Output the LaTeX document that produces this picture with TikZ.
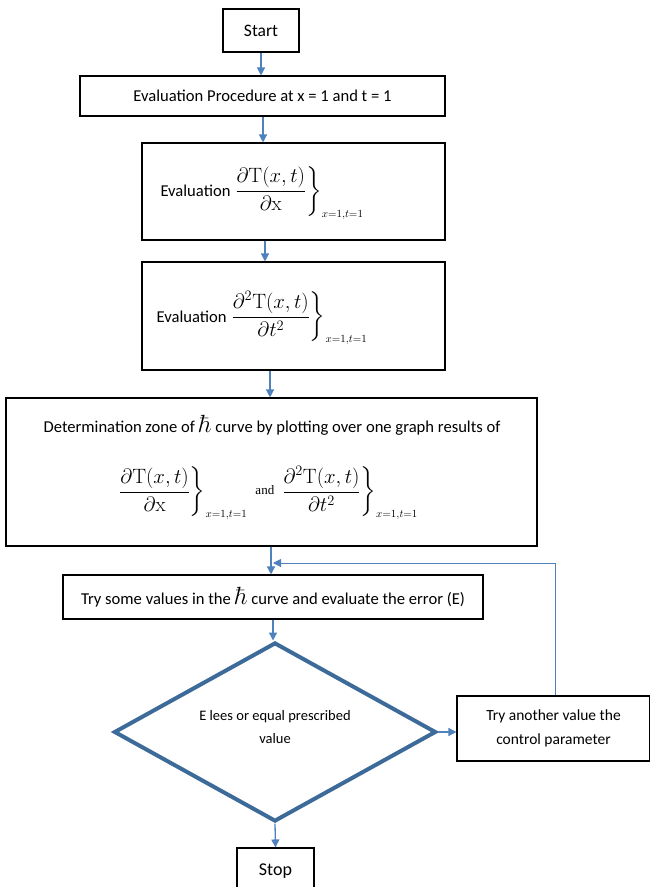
\documentclass[tikz,border=0pt]{standalone}
\usepackage{amsmath}
\usepackage[no-math]{fontspec}
\setmainfont{Carlito}
\newfontfamily\tnr{Liberation Serif}
\usetikzlibrary{arrows.meta,shapes.geometric}
\definecolor{arrowblue}{HTML}{4F81BD}
\definecolor{diablue}{HTML}{3D6B99}
\begin{document}
\begin{tikzpicture}[x=1pt,y=-1pt,
  box/.style={draw=black, line width=1.1pt, inner sep=0pt},
  arr/.style={draw=arrowblue, line width=1.3pt, -{Triangle[length=8pt,width=8pt]}},
  fbline/.style={draw=arrowblue, line width=1pt, -{Triangle[length=8pt,width=8pt]}},
  txt/.style={font=\fontsize{16.6}{19}\selectfont, align=center, inner sep=0pt},
  small/.style={font=\fontsize{14.5}{23}\selectfont, align=center, inner sep=0pt},
  decision/.style={diamond, draw=diablue, line width=4pt, inner sep=0pt, line join=miter},
]
\useasboundingbox (0,0) rectangle (650,887);
\clip (0,0) rectangle (650,887);
\newcommand{\mfont}{\fontsize{21}{25}\selectfont}
\newcommand{\dTx}{\left.\frac{\partial\mathrm{T}(x,t)}{\partial\mathrm{x}}\right\}_{\scriptscriptstyle x=1,t=1}}
\newcommand{\dTtt}{\left.\frac{\partial^{2}\mathrm{T}(x,t)}{\partial t^{2}}\right\}_{\scriptscriptstyle x=1,t=1}}
\newcommand{\hb}{{\fontsize{23}{23}\selectfont$\hbar$}}

% boxes
\node[box, txt, font=\fontsize{17.5}{20}\selectfont, minimum width=76pt, minimum height=43pt] (start) at (261,30.5) {Start};
\node[box, txt, minimum width=365pt, minimum height=40pt] (proc) at (262.5,96) {Evaluation Procedure at x = 1 and t = 1};
\node[box, minimum width=303pt, minimum height=97pt] (evalA) at (293.5,191.5) {};
\node[txt] (evalAt) at (262,193) {Evaluation {\mfont$\displaystyle\dTx$}};
\node[box, minimum width=303pt, minimum height=108pt] (evalB) at (293.5,316) {};
\node[txt] (evalBt) at (262,318) {Evaluation {\mfont$\displaystyle\dTtt$}};
\node[box, minimum width=531pt, minimum height=148pt] (zone) at (271.5,472) {};
\node[txt] (zoneA) at (272,425) {Determination zone of \hb{} curve by plotting over one graph results of};
\node[txt] (zoneB) at (268,493) {\mfont$\displaystyle\dTx\ \raisebox{3pt}{\tnr\fontsize{13}{13}\selectfont and}\,\dTtt$};
\node[box, txt, minimum width=420pt, minimum height=44pt] (trysome) at (273,597) {Try some values in the \hb{} curve and evaluate the error (E)};
\node[decision, minimum width=322pt, minimum height=179pt] (dec) at (275,732) {};
\node[small] (dect) at (275,727) {E lees or equal prescribed\\value};
\node[box, small, font=\fontsize{15.5}{24}\selectfont, minimum width=193pt, minimum height=65pt] (another) at (553.5,728.5) {Try another value the\\control parameter};
\node[box, minimum width=77pt, minimum height=52pt] (stop) at (275.5,874) {};
\node[txt, font=\fontsize{18}{20}\selectfont] (stopt) at (275.5,871) {Stop};

% axis coordinates
\coordinate (c2) at (263,0);
\coordinate (c3) at (265,0);
\coordinate (c4) at (270,0);
\coordinate (c5) at (271,0);
\coordinate (c6) at (273,0);
\coordinate (c7) at (555,0);
\coordinate (fb) at (273,563);

% connectors
\draw[arr] (start.south) -- (start.south |- proc.north);
\draw[arr] (proc.south -| c2) -- (evalA.north -| c2);
\draw[arr] (evalA.south -| c3) -- (evalB.north -| c3);
\draw[arr] (evalB.south -| c4) -- (zone.north -| c4);
\draw[arr] (zone.south -| c5) -- (trysome.north -| c5);
\draw[arr] (trysome.south -| c6) -- (dec.north -| c6);
\draw[arr] (dec.east) -- (dec.east -| another.west);
\draw[arr] (dec.south) -- (stop.north);
\draw[fbline] (another.north -| c7) |- (fb);
\end{tikzpicture}
\end{document}
